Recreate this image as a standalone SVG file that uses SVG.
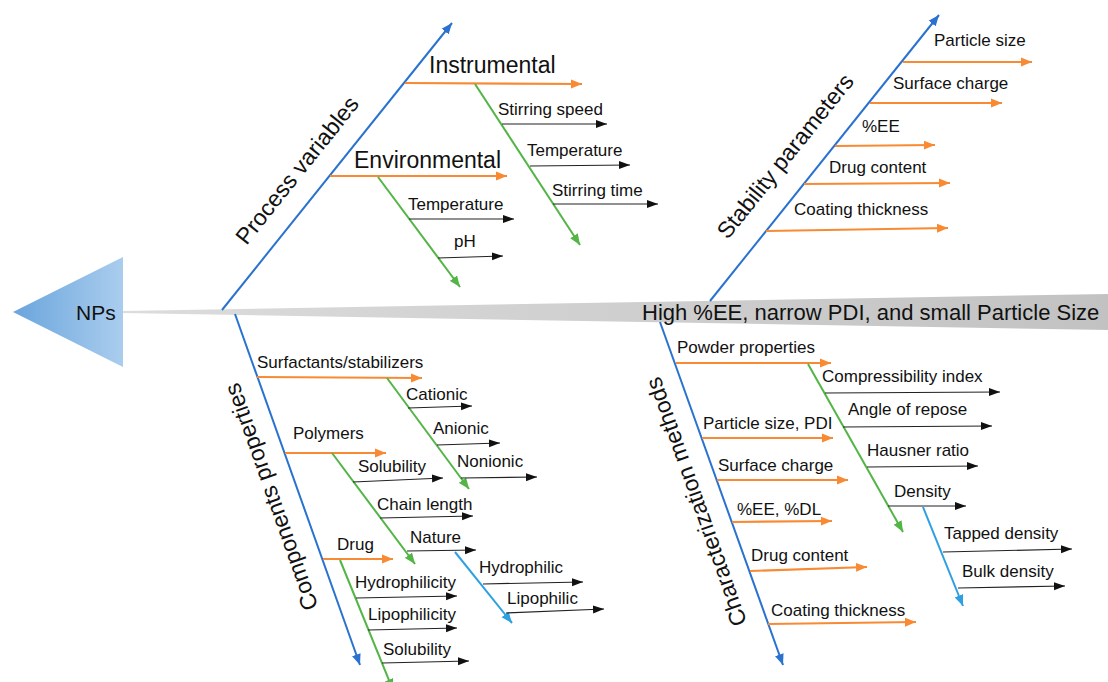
<svg xmlns="http://www.w3.org/2000/svg" width="1108" height="682" viewBox="0 0 1108 682">
<defs>
<style>
text{font-family:"Liberation Sans",Arial,sans-serif;fill:#111}
.s{font-size:17px}
.b{font-size:23px}
.blue{stroke:#2a72cf;stroke-width:2;fill:none}
.or{stroke:#f78a33;stroke-width:2.2;fill:none}
.gr{stroke:#52b545;stroke-width:2;fill:none}
.lb{stroke:#2ea0e2;stroke-width:2;fill:none}
.bk{stroke:#222;stroke-width:1.2;fill:none}
</style>
<linearGradient id="tri" x1="0" y1="0" x2="1" y2="0">
<stop offset="0" stop-color="#6aa5dc"/><stop offset="1" stop-color="#aacdee"/>
</linearGradient>
<linearGradient id="spine" x1="0" y1="0" x2="1" y2="0">
<stop offset="0" stop-color="#dcdcdc"/><stop offset="1" stop-color="#c2c2c2"/>
</linearGradient>
<marker id="mBlue" markerUnits="userSpaceOnUse" markerWidth="12" markerHeight="10" refX="11" refY="5" orient="auto"><path d="M0,0.5 L11,5 L0,9.5 Z" fill="#2a72cf"/></marker>
<marker id="mOr" markerUnits="userSpaceOnUse" markerWidth="12" markerHeight="10" refX="11" refY="5" orient="auto"><path d="M0,0.5 L11,5 L0,9.5 Z" fill="#f78a33"/></marker>
<marker id="mGr" markerUnits="userSpaceOnUse" markerWidth="12" markerHeight="10" refX="11" refY="5" orient="auto"><path d="M0,0.5 L11,5 L0,9.5 Z" fill="#52b545"/></marker>
<marker id="mLb" markerUnits="userSpaceOnUse" markerWidth="12" markerHeight="10" refX="11" refY="5" orient="auto"><path d="M0,0.5 L11,5 L0,9.5 Z" fill="#2ea0e2"/></marker>
<marker id="mBk" markerUnits="userSpaceOnUse" markerWidth="12" markerHeight="10" refX="11" refY="5" orient="auto"><path d="M0,1 L11,5 L0,9 Z" fill="#111"/></marker>
</defs>
<rect width="1108" height="682" fill="#fff"/>

<g id="spine-effect">
<polygon points="123,311 1108,294 1108,330 123,313" fill="url(#spine)"/>
<text x="642" y="320" style="font-size:22px">High %EE, narrow PDI, and small Particle Size</text>
</g>

<g id="head-NPs">
<polygon points="13,312 123,257 123,367" fill="url(#tri)"/>
<text x="76" y="320" style="font-size:21px">NPs</text>
</g>

<g id="connectors">
<!-- main bones -->
<line class="blue" x1="222" y1="310" x2="452" y2="23" marker-end="url(#mBlue)"/>
<line class="blue" x1="710" y1="301" x2="939" y2="15" marker-end="url(#mBlue)"/>
<line class="blue" x1="235" y1="314" x2="360" y2="665" marker-end="url(#mBlue)"/>
<line class="blue" x1="660" y1="322" x2="783" y2="665" marker-end="url(#mBlue)"/>

<!-- process variables -->
<line class="or" x1="405" y1="83" x2="582" y2="84" marker-end="url(#mOr)"/>
<line class="gr" x1="475" y1="84" x2="580" y2="245" marker-end="url(#mGr)"/>
<line class="bk" x1="502" y1="124" x2="607" y2="124" marker-end="url(#mBk)"/>
<line class="bk" x1="530" y1="166" x2="630" y2="165" marker-end="url(#mBk)"/>
<line class="bk" x1="553" y1="204" x2="658" y2="204" marker-end="url(#mBk)"/>
<line class="or" x1="330" y1="176" x2="507" y2="176" marker-end="url(#mOr)"/>
<line class="gr" x1="378" y1="177" x2="460" y2="287" marker-end="url(#mGr)"/>
<line class="bk" x1="409" y1="219" x2="514" y2="219" marker-end="url(#mBk)"/>
<line class="bk" x1="438" y1="258" x2="503" y2="256" marker-end="url(#mBk)"/>

<!-- stability -->
<line class="or" x1="903" y1="62" x2="1032" y2="62" marker-end="url(#mOr)"/>
<line class="or" x1="870" y1="103" x2="1002" y2="103" marker-end="url(#mOr)"/>
<line class="or" x1="835" y1="146" x2="935" y2="145" marker-end="url(#mOr)"/>
<line class="or" x1="804" y1="184" x2="950" y2="183" marker-end="url(#mOr)"/>
<line class="or" x1="766" y1="231" x2="948" y2="228" marker-end="url(#mOr)"/>

<!-- components -->
<line class="or" x1="257" y1="377" x2="422" y2="378" marker-end="url(#mOr)"/>
<line class="gr" x1="387" y1="378" x2="469" y2="489" marker-end="url(#mGr)"/>
<line class="bk" x1="408" y1="408" x2="472" y2="406" marker-end="url(#mBk)"/>
<line class="bk" x1="437" y1="445" x2="500" y2="443" marker-end="url(#mBk)"/>
<line class="bk" x1="461" y1="478" x2="537" y2="477" marker-end="url(#mBk)"/>
<line class="or" x1="285" y1="453" x2="386" y2="453" marker-end="url(#mOr)"/>
<line class="gr" x1="332" y1="453" x2="415" y2="564" marker-end="url(#mGr)"/>
<line class="bk" x1="353" y1="482" x2="443" y2="478" marker-end="url(#mBk)"/>
<line class="bk" x1="380" y1="518" x2="473" y2="516" marker-end="url(#mBk)"/>
<line class="bk" x1="407" y1="551" x2="476" y2="550" marker-end="url(#mBk)"/>
<line class="lb" x1="455" y1="552" x2="512" y2="623" marker-end="url(#mLb)"/>
<line class="bk" x1="483" y1="584" x2="583" y2="582" marker-end="url(#mBk)"/>
<line class="bk" x1="506" y1="613" x2="604" y2="609" marker-end="url(#mBk)"/>
<line class="or" x1="323" y1="559" x2="393" y2="559" marker-end="url(#mOr)"/>
<line class="gr" x1="340" y1="560" x2="393" y2="690" marker-end="url(#mGr)"/>
<line class="bk" x1="356" y1="598" x2="457" y2="596" marker-end="url(#mBk)"/>
<line class="bk" x1="368" y1="630" x2="457" y2="628" marker-end="url(#mBk)"/>
<line class="bk" x1="382" y1="663" x2="469" y2="661" marker-end="url(#mBk)"/>

<!-- characterization -->
<line class="or" x1="676" y1="363" x2="831" y2="363" marker-end="url(#mOr)"/>
<line class="gr" x1="808" y1="364" x2="903" y2="532" marker-end="url(#mGr)"/>
<line class="bk" x1="825" y1="393" x2="1000" y2="392" marker-end="url(#mBk)"/>
<line class="bk" x1="843" y1="427" x2="992" y2="426" marker-end="url(#mBk)"/>
<line class="bk" x1="867" y1="467" x2="978" y2="466" marker-end="url(#mBk)"/>
<line class="bk" x1="888" y1="506" x2="966" y2="506" marker-end="url(#mBk)"/>
<line class="lb" x1="923" y1="507" x2="963" y2="606" marker-end="url(#mLb)"/>
<line class="bk" x1="943" y1="552" x2="1072" y2="549" marker-end="url(#mBk)"/>
<line class="bk" x1="958" y1="588" x2="1065" y2="586" marker-end="url(#mBk)"/>
<line class="or" x1="702" y1="438" x2="833" y2="438" marker-end="url(#mOr)"/>
<line class="or" x1="717" y1="480" x2="848" y2="480" marker-end="url(#mOr)"/>
<line class="or" x1="732" y1="522" x2="832" y2="521" marker-end="url(#mOr)"/>
<line class="or" x1="750" y1="571" x2="867" y2="567" marker-end="url(#mOr)"/>
<line class="or" x1="768" y1="624" x2="916" y2="622" marker-end="url(#mOr)"/>
</g>

<g id="process-variables">
<text class="b" text-anchor="middle" dy="0.35em" transform="translate(297,170) rotate(-51.3)">Process variables</text>
<text class="b" x="429" y="73">Instrumental</text>
<text class="s" x="498" y="115">Stirring speed</text>
<text class="s" x="527" y="156">Temperature</text>
<text class="s" x="552" y="196">Stirring time</text>
<text class="b" x="354" y="168">Environmental</text>
<text class="s" x="408" y="210">Temperature</text>
<text class="s" x="454" y="247">pH</text>
</g>

<g id="stability-parameters">
<text class="b" text-anchor="middle" dy="0.35em" transform="translate(785,156) rotate(-51.3)">Stability parameters</text>
<text class="s" x="934" y="46">Particle size</text>
<text class="s" x="893" y="89">Surface charge</text>
<text class="s" x="862" y="132">%EE</text>
<text class="s" x="829" y="173">Drug content</text>
<text class="s" x="794" y="215">Coating thickness</text>
</g>

<g id="components-properties">
<text class="b" text-anchor="middle" dy="0.35em" transform="translate(271,497) rotate(-109.5)">Components properties</text>
<text class="s" x="257" y="368">Surfactants/stabilizers</text>
<text class="s" x="406" y="400">Cationic</text>
<text class="s" x="433" y="434">Anionic</text>
<text class="s" x="457" y="467">Nonionic</text>
<text class="s" x="293" y="439">Polymers</text>
<text class="s" x="358" y="472">Solubility</text>
<text class="s" x="377" y="510">Chain length</text>
<text class="s" x="410" y="543">Nature</text>
<text class="s" x="479" y="573">Hydrophilic</text>
<text class="s" x="507" y="604">Lipophilic</text>
<text class="s" x="337" y="550">Drug</text>
<text class="s" x="355" y="588">Hydrophilicity</text>
<text class="s" x="368" y="620">Lipophilicity</text>
<text class="s" x="383" y="655">Solubility</text>
</g>

<g id="characterization-methods">
<text class="b" text-anchor="middle" dy="0.35em" transform="translate(696,502) rotate(-109.5)">Characterization methods</text>
<text class="s" x="677" y="353">Powder properties</text>
<text class="s" x="822" y="382">Compressibility index</text>
<text class="s" x="848" y="415">Angle of repose</text>
<text class="s" x="867" y="456">Hausner ratio</text>
<text class="s" x="894" y="497">Density</text>
<text class="s" x="944" y="539">Tapped density</text>
<text class="s" x="962" y="577">Bulk density</text>
<text class="s" x="703" y="429">Particle size, PDI</text>
<text class="s" x="718" y="471">Surface charge</text>
<text class="s" x="737" y="515">%EE, %DL</text>
<text class="s" x="751" y="561">Drug content</text>
<text class="s" x="771" y="616">Coating thickness</text>
</g>
</svg>
